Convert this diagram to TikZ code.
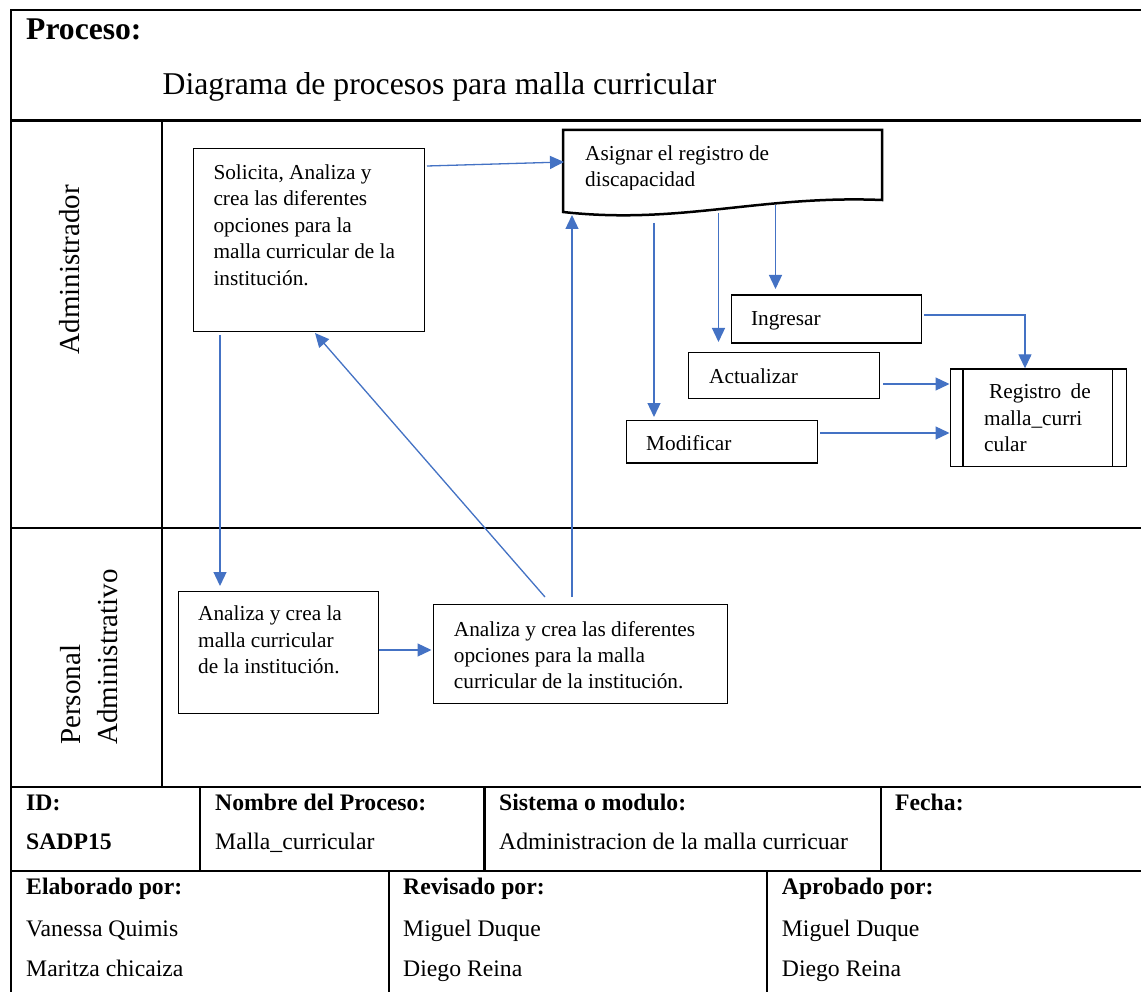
\documentclass[tikz,border=0pt]{standalone}
\usepackage{fontspec}
\setmainfont{Liberation Serif}
\usetikzlibrary{arrows.meta}
\definecolor{arrowblue}{HTML}{4472C4}
\newcommand{\mytab}[1]{\begin{tabular}[t]{@{}l@{}}#1\end{tabular}}
\begin{document}
\begin{tikzpicture}[x=1pt,y=-1pt,
  frameline/.style={line width=2.2pt, line cap=rect},
  procbox/.style={draw=black, line width=1.4pt, inner sep=0pt, anchor=north west},
  boxtext/.style={anchor=base west, inner sep=0pt, font=\fontsize{21.3}{26.5}\selectfont},
  foot/.style={anchor=base west, inner sep=0pt, font=\fontsize{23.7}{28}\selectfont},
  foothead/.style={anchor=base west, inner sep=0pt, font=\fontsize{23.7}{28}\selectfont\bfseries},
  lanelabel/.style={anchor=base west, inner sep=0pt, rotate=90, font=\fontsize{29}{34}\selectfont},
  flow/.style={draw=arrowblue, line width=1.3pt, -{Triangle[length=14pt,width=13pt]}},
]
\useasboundingbox (0,0) rectangle (1141,992);
\fill[white] (0,0) rectangle (1141,992);
\begin{scope}
\clip (0,0) rectangle (1141,992);
% frame
\draw[frameline] (11,10.3) -- (1150,10.3);
\draw[frameline] (11,120.5) -- (1150,120.5);
\draw[frameline] (11,527.7) -- (1150,527.7);
\draw[frameline] (11,786.7) -- (1150,786.7);
\draw[frameline] (11,871) -- (1150,871);
\draw[frameline] (11,10.3) -- (11,1000);
\draw[frameline] (162.3,120.5) -- (162.3,786.7);
\draw[frameline] (200,786.7) -- (200,871);
\draw[frameline] (484.5,786.7) -- (484.5,871);
\draw[frameline] (881,786.7) -- (881,871);
\draw[frameline] (389,871) -- (389,1000);
\draw[frameline] (767,871) -- (767,1000);
\end{scope}

% header
\node[anchor=base west, inner sep=0pt, font=\fontsize{31.6}{36}\selectfont\bfseries] (proc) at (26,40) {Proceso:};
\node[anchor=base west, inner sep=0pt, font=\fontsize{31.7}{36}\selectfont] (title) at (162.5,95) {Diagrama de procesos para malla curricular};

% lane labels
\node[lanelabel] (lane1) at (79,354.5) {Administrador};
\node[lanelabel] (lane2a) at (80,745) {Personal};
\node[lanelabel] (lane2b) at (117,745) {Administrativo};

% boxes
\node[procbox, minimum width=231pt, minimum height=183pt] (A) at (193,148) {};
\node[boxtext] (Atext) at (213.3,179.3) {\mytab{Solicita, Analiza y\\crea las diferentes\\opciones para la\\malla curricular de la\\instituci\'on.}};

% document shape
\draw[line width=2.5pt, line join=miter] (563,130) -- (882,130) -- (882,200)
  .. controls (760,195) and (680,225) .. (563,212) -- cycle;
\coordinate (D) at (722,170);
\begin{scope}
\clip (563,130) rectangle (882,190);
\node[boxtext, font=\fontsize{21.3}{26}\selectfont] (Dtext) at (585,160.7) {\mytab{Asignar el registro de\\discapacidad}};
\end{scope}

\node[procbox, minimum width=190pt, minimum height=48pt] (I) at (731,294.3) {};
\node[boxtext] (Itext) at (750.8,325.7) {Ingresar};
\node[procbox, minimum width=191pt, minimum height=46.3pt] (U) at (688,351.7) {};
\node[boxtext] (Utext) at (709,383.3) {Actualizar};
\node[procbox, minimum width=191pt, minimum height=42.3pt] (M) at (626,420) {};
\node[boxtext] (Mtext) at (646,450.7) {Modificar};

\node[procbox, minimum width=176.5pt, minimum height=97.7pt] (R) at (949.5,368.3) {};
\draw[line width=1.4pt] ([xshift=13.5pt]R.north west) -- ([xshift=13.5pt]R.south west);
\draw[line width=1.4pt] ([xshift=-15pt]R.north east) -- ([xshift=-15pt]R.south east);
\node[boxtext] (Rtext) at (984,398.8) {\mytab{\hspace{5pt}Registro\hspace{4pt} de\\malla\_curri\\cular}};

\node[procbox, minimum width=199.5pt, minimum height=122pt] (B) at (178,590.7) {};
\node[boxtext, font=\fontsize{21.3}{26.3}\selectfont] (Btext) at (198,620.7) {\mytab{Analiza y crea la\\malla curricular\\de la instituci\'on.}};
\node[procbox, minimum width=294pt, minimum height=99pt] (C) at (433,604) {};
\node[boxtext, font=\fontsize{21.3}{26.2}\selectfont] (Ctext) at (453.7,636) {\mytab{Analiza y crea las diferentes\\opciones para la malla\\curricular de la instituci\'on.}};

% connector end points
\coordinate (a1) at (427,166);
\coordinate (d1) at (564,162);
\coordinate (a2) at (220,335);
\coordinate (b1) at (220,586);
\coordinate (b2) at (378.6,650);
\coordinate (c1) at (431.5,650);
\coordinate (c2) at (545,597);
\coordinate (a3) at (315,333);
\coordinate (c3) at (572,597);
\coordinate (d2) at (572,215);
\coordinate (d3) at (654,223);
\coordinate (m1) at (654,417);
\coordinate (d4) at (718.5,213);
\coordinate (u1) at (718.5,342);
\coordinate (d5) at (775.5,205);
\coordinate (i1) at (775.5,289);
\coordinate (i2) at (924,315);
\coordinate (ik) at (1025,315);
\coordinate (r1) at (1025,368.3);
\coordinate (u2) at (883,384);
\coordinate (r2) at (949.5,384);
\coordinate (m2) at (820,433);
\coordinate (r3) at (949.5,433);

\draw[flow] (a1) -- (d1);
\draw[flow] (a2) -- (b1);
\draw[flow] (b2) -- (c1);
\draw[flow] (c2) -- (a3);
\draw[flow] (c3) -- (d2);
\draw[flow] (d3) -- (m1);
\draw[flow] (d4) -- (u1);
\draw[flow] (d5) -- (i1);
\draw[flow] (i2) -- (ik) -- (r1);
\draw[flow] (u2) -- (r2);
\draw[flow] (m2) -- (r3);

% footer
\node[foothead] (fid) at (26,810) {ID:};
\node[foothead] (fnom) at (215,810) {Nombre del Proceso:};
\node[foothead] (fsis) at (499,810) {Sistema o modulo:};
\node[foothead] (ffec) at (895,810) {Fecha:};
\node[foothead] (fsadp) at (26,849.5) {SADP15};
\node[foot] (fmalla) at (215,849.5) {Malla\_curricular};
\node[foot] (fadm) at (499,849.5) {Administracion de la malla curricuar};

\node[foothead] (felab) at (26,894) {Elaborado por:};
\node[foothead] (frev) at (403,894) {Revisado por:};
\node[foothead] (fapr) at (781.7,894) {Aprobado por:};
\node[foot] (fv) at (26,936.7) {Vanessa Quimis};
\node[foot] (fmq) at (26,976.7) {Maritza chicaiza};
\node[foot] (fmd1) at (403,936.7) {Miguel Duque};
\node[foot] (fdr1) at (403,976.7) {Diego Reina};
\node[foot] (fmd2) at (781.7,936.7) {Miguel Duque};
\node[foot] (fdr2) at (781.7,976.7) {Diego Reina};
\end{tikzpicture}
\end{document}
